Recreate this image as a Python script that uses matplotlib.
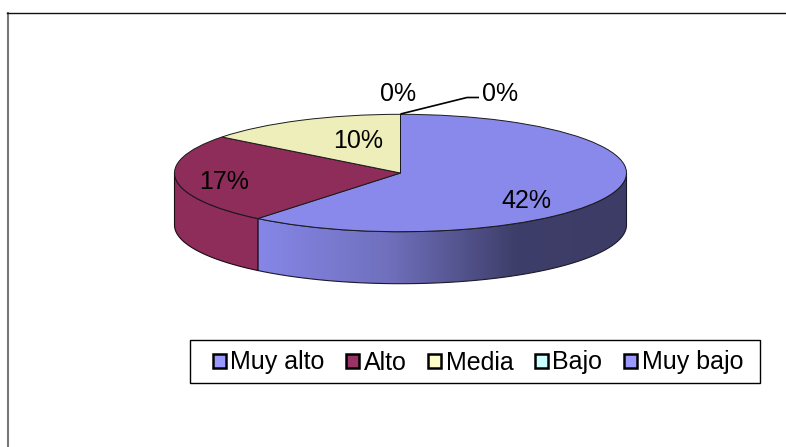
import numpy as np
import matplotlib
matplotlib.use("Agg")
import matplotlib.pyplot as plt
from matplotlib.colors import LinearSegmentedColormap
from matplotlib.patches import Patch, Polygon, Rectangle

plt.rcParams['font.family'] = ['Liberation Sans', 'DejaVu Sans']

categories = ["Muy alto", "Alto", "Media", "Bajo", "Muy bajo"]
values = [42, 17, 10, 0, 0]
value_labels = ["42%", "17%", "10%", "0%", "0%"]
top_colors = ["#8989EB", "#8E2C5A", "#EEEEBB", "#BBEEEE", "#8989EB"]
legend_colors = ["#9999FF", "#993366", "#FFFFCC", "#CCFFFF", "#9999FF"]

W, H = 786, 447
cx, cy, rx, ry, depth = 400.5, 173, 226, 58.7, 52

# pixel position -> pie units
def pos(px, py):
    return (px - cx) / rx, (cy - py) / ry

fig = plt.figure(figsize=(W / 100, H / 100), dpi=100)
ax = fig.add_axes([0, 0, 1, 1])
d = depth / ry

# side wall, one piece for each slice
total = sum(values)
start = 90.0
edges = []
for v in values:
    end = start - 360.0 * v / total
    edges.append((start, end))
    start = end

def wall(a, b):
    # only the front part, below the horizon, can be seen
    t = np.radians(np.linspace(min(a, 0), max(b, -180), 80))
    x, y = np.cos(t), np.sin(t)
    return np.column_stack([np.r_[x, x[::-1]], np.r_[y, y[::-1] - d]])

shade = LinearSegmentedColormap.from_list(
    "shade", [(0, "#8686E8"), (0.35, "#7070BE"), (0.7, "#3E3E6A"), (1, "#3C3C66")])
a0, b0 = edges[0]
poly = Polygon(wall(a0, b0), closed=True, facecolor="none", edgecolor="#1A1A2A", lw=0.8, zorder=2)
ax.add_patch(poly)
x0 = np.cos(np.radians(b0))
img = ax.imshow(np.linspace(0, 1, 256).reshape(1, -1), cmap=shade, aspect="auto",
                extent=(x0, 1, -1 - d, 0.5), zorder=1)
img.set_clip_path(poly)

a1, b1 = edges[1]
ax.add_patch(Polygon(wall(a1, b1), closed=True, facecolor=top_colors[1],
                     edgecolor="#1A0A14", lw=0.8, zorder=2))

# top face
wedges, _ = ax.pie(values, colors=top_colors, startangle=90, counterclock=False,
                   wedgeprops=dict(edgecolor="#1A1A1A", linewidth=0.7))
for w in wedges:
    w.set_zorder(3)

ax.set_aspect("auto")
ax.set_xlim(pos(0, 0)[0], pos(W, 0)[0])
ax.set_ylim(pos(0, H)[1], pos(0, 0)[1])
ax.axis("on")
ax.set_xticks([])
ax.set_yticks([])
for s in ax.spines.values():
    s.set_visible(False)

# value labels
label_px = [(526, 200.5), (224, 181.5), (358.5, 140.5), (398, 93.5), (500.5, 93.5)]
for txt, p in zip(value_labels, label_px):
    ax.text(*pos(*p), txt, fontsize=18, color="black", ha="center", va="center", zorder=5)

# leader line of the last label
lx, ly = zip(pos(400.5, 114), pos(467, 97.5), pos(479, 97.5))
ax.plot(lx, ly, color="black", lw=1.2, zorder=4, solid_capstyle="butt")

# outer frame, top and left only are visible
ax.plot(*zip(pos(7.5, H), pos(7.5, 12.5)), color="#777777", lw=1.5, zorder=6)
ax.plot(*zip(pos(7, 12.5), pos(W, 12.5)), color="#111111", lw=1.0, zorder=6)

# legend box
fig.add_artist(Rectangle((189.5 / W, 1 - 383 / H), 570 / W, 43 / H, transform=fig.transFigure,
                         facecolor="white", edgecolor="black", linewidth=1.0, zorder=6))
handles = [Patch(facecolor=c, edgecolor="black", linewidth=1.8) for c in legend_colors]
leg = fig.legend(handles, categories, ncol=5, loc="center left",
                 bbox_to_anchor=(213 / W, 1 - 362.5 / H), bbox_transform=fig.transFigure,
                 fontsize=18, frameon=False,
                 handlelength=0.5, handleheight=0.5, handletextpad=0.2, columnspacing=0.86,
                 borderpad=0, borderaxespad=0, labelspacing=0)
leg.set_zorder(7)

fig.savefig("out.png", dpi=100, facecolor="white")
